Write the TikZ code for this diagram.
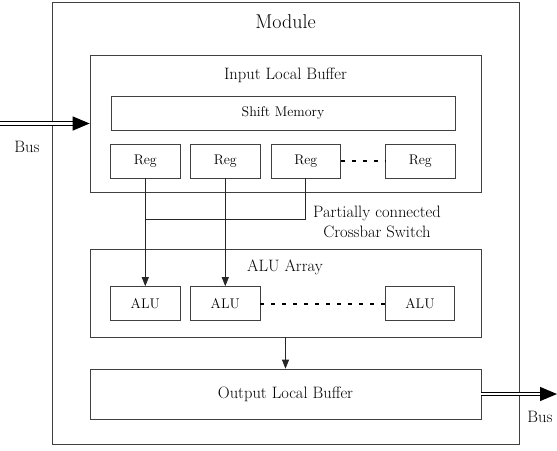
\documentclass[tikz,border=0pt]{standalone}
\usepackage{tikz}
\usetikzlibrary{arrows.meta}

\begin{document}
\begin{tikzpicture}[x=1pt,y=-1pt,
    frame/.style={draw=black!75,line width=0.7pt,inner sep=0pt},
    unit/.style={frame,minimum width=69.5pt,minimum height=34pt,font=\fontsize{14}{16}\selectfont},
    title/.style={font=\fontsize{16.5}{19}\selectfont},
    link/.style={draw=black!85,line width=0.7pt},
    feed/.style={link,-{Triangle[length=9pt,width=7pt]}},
    dots/.style={draw=black,line width=2pt,dash pattern=on 4pt off 7pt},
    bus/.style={draw=black,line width=1.3pt,double=white,double distance=2.2pt,
      -{Triangle[length=17pt,width=14pt]}}]
    \useasboundingbox (0,0) rectangle (557,450);

    % Module
    \node[frame,minimum width=466.5pt,minimum height=442pt] (module) at (285.75,223) {};
    \node[font=\fontsize{20}{24}\selectfont] (moduletitle) at (285.5,22) {Module};

    % Input local buffer
    \node[frame,minimum width=391pt,minimum height=137pt] (ilb) at (285.5,123.5) {};
    \node[title] (ilbtitle) at (285.5,75) {Input Local Buffer};
    \node[unit,minimum width=344pt] (shift) at (283,113) {Shift Memory};
    \node[unit] (reg1) at (145.3,161) {Reg};
    \node[unit] (reg2) at (225.3,161) {Reg};
    \node[unit] (reg3) at (305.8,161) {Reg};
    \node[unit] (reg4) at (420.3,161) {Reg};
    \draw[dots] (reg3.east) -- (reg4.west);

    % ALU array
    \node[frame,minimum width=391pt,minimum height=88pt] (alua) at (285.5,293) {};
    \node[title] (aluatitle) at (285,267) {ALU Array};
    \node[unit] (alu1) at (145.3,303.5) {ALU};
    \node[unit] (alu2) at (225.3,303.5) {ALU};
    \node[unit] (alu3) at (420,303.5) {ALU};
    \draw[dots] (alu2.east) -- (alu3.west);

    % Crossbar
    \coordinate (xbar) at (145.3,219);
    \draw[feed] (reg1.south) -- (alu1.north);
    \draw[feed] (reg2.south) -- (alu2.north);
    \draw[link] (reg3.south) |- (xbar);
    \node[title,align=center] (xbarlabel) at (377,221.5) {Partially connected\\[1pt]Crossbar Switch};

    % Output local buffer
    \node[frame,minimum width=391pt,minimum height=50pt,title] (olb) at (285.5,394) {Output Local Buffer};
    \draw[feed] (alua.south) -- (olb.north);

    % Bus
    \coordinate (busin) at (0,123.5);
    \coordinate (busout) at (557,394);
    \draw[bus] (busin) -- (ilb.west);
    \draw[bus] (olb.east) -- (busout);
    \node[title] (buslabelin) at (27,147) {Bus};
    \node[title] (buslabelout) at (540,417) {Bus};
\end{tikzpicture}
\end{document}
